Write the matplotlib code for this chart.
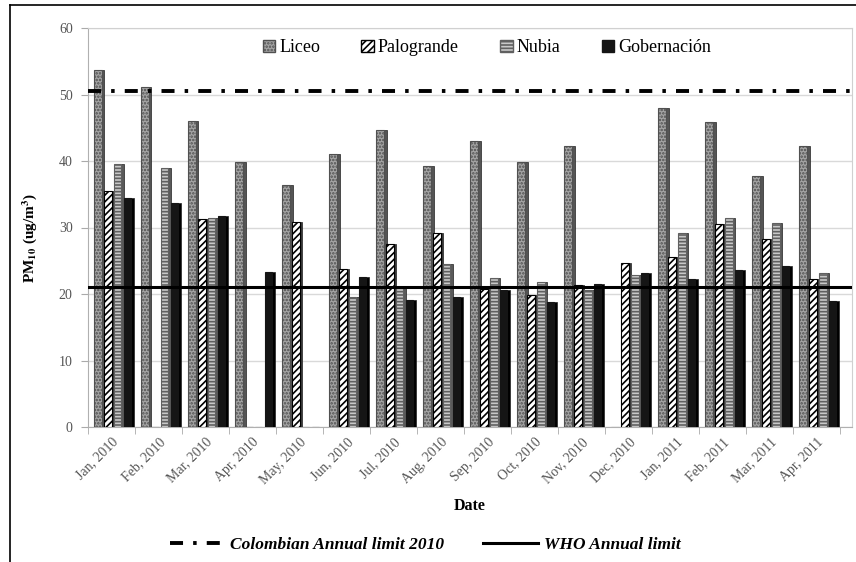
import matplotlib
matplotlib.use("Agg")
import matplotlib.pyplot as plt
import numpy as np
from matplotlib.lines import Line2D
from matplotlib.patches import Patch

plt.rcParams['font.family'] = ['Liberation Serif', 'DejaVu Serif']
plt.rcParams['mathtext.fontset'] = 'stix'
plt.rcParams['hatch.linewidth'] = 1.2

# monthly PM10 averages
months = ['Jan, 2010', 'Feb, 2010', 'Mar, 2010', 'Apr, 2010', 'May, 2010',
          'Jun, 2010', 'Jul, 2010', 'Aug, 2010', 'Sep, 2010', 'Oct, 2010',
          'Nov, 2010', 'Dec, 2010', 'Jan, 2011', 'Feb, 2011', 'Mar, 2011',
          'Apr, 2011']
liceo = [53.7, 51.2, 46.0, 39.9, 36.4, 41.0, 44.6, 39.2, 43.0, 39.8,
         42.3, 0, 48.0, 45.8, 37.7, 42.3]
palogrande = [35.5, 0, 31.3, 0, 30.9, 23.8, 27.5, 29.1, 20.8, 19.8,
              21.4, 24.7, 25.6, 30.6, 28.3, 22.3]
nubia = [39.5, 39.0, 31.5, 0, 0, 19.5, 21.0, 24.5, 22.4, 21.8,
         20.6, 22.9, 29.1, 31.5, 30.7, 23.2]
gobernacion = [34.5, 33.7, 31.8, 23.3, 0, 22.5, 19.1, 19.6, 20.6, 18.8,
               21.5, 23.1, 22.3, 23.6, 24.2, 19.0]

colombian_limit = 50.6
who_limit = 21.1

series = [
    ('Liceo', liceo, '#a4a4a4', '#505050', '.....', '#555555'),
    ('Palogrande', palogrande, 'white', 'black', '/////', '#3a3a3a'),
    ('Nubia', nubia, '#c8c8c8', '#606060', '-----', '#5a5a5a'),
    ('Gobernación', gobernacion, '#151515', '#151515', '', '#000000'),
]

fig = plt.figure(figsize=(8.56, 5.62), dpi=100)
ax = fig.add_axes([88/856, 135/562, 764/856, 399/562])

x = np.arange(len(months))
w = 0.16
side = 0.06
handles = []
for i, (name, vals, fc, ec, hatch, sc) in enumerate(series):
    left = x - 0.37 + i*0.21
    vals = np.array(vals)
    # dark side face for the 3D look
    ax.bar(left + w, vals, width=side, align='edge', color=sc,
           edgecolor='#222222', linewidth=0.5, zorder=3)
    ax.bar(left, vals, width=w, align='edge', color=fc, edgecolor=ec,
           hatch=hatch, linewidth=0.8, zorder=3)
    handles.append(Patch(facecolor=fc, edgecolor=ec, hatch=hatch, label=name))

ax.axhline(colombian_limit, color='black', lw=2.8,
           dashes=(3.35, 2.6, 0.9, 2.6), zorder=5)
ax.axhline(who_limit, color='black', lw=2.2, zorder=5)

ax.set_xlim(-0.5, 15.75)
ax.set_ylim(0, 60)
ax.set_yticks(range(0, 61, 10))
ax.set_xticks(x)
ax.set_xticklabels(months, rotation=45, ha='right', rotation_mode='anchor',
                   fontsize=10, color='#555555')
ax.set_xticks(np.arange(-0.5, 16, 1), minor=True)
ax.tick_params(axis='x', which='major', length=0, pad=6)
ax.tick_params(axis='x', which='minor', length=5, color='#aaaaaa')
ax.tick_params(axis='y', length=5, color='#aaaaaa', labelsize=10,
               labelcolor='#555555', pad=6)
ax.grid(axis='y', color='#d9d9d9', lw=1, zorder=0)
ax.set_axisbelow(True)
for s in ['left', 'bottom']:
    ax.spines[s].set_color('#b0b0b0')
for s in ['top', 'right']:
    ax.spines[s].set_color('#d0d0d0')

ax.set_xlabel('Date', fontsize=11.5, fontweight='bold', labelpad=8)
fig.text(30/856, 1 - 238/562, 'PM$_{\\mathbf{10}}$ (ug/m$^{\\mathbf{3}}$)',
         rotation=90, fontsize=11, fontweight='bold', ha='center', va='center')

ax.legend(handles=handles, ncol=4, loc='center',
          bbox_to_anchor=(0.522, 0.95), frameon=False, fontsize=13,
          handlelength=0.7, handleheight=0.7, handletextpad=0.2,
          columnspacing=2.3)

line_handles = [
    Line2D([], [], color='black', lw=2.8, dashes=(3.35, 2.6, 0.9, 2.6),
           label='Colombian Annual limit 2010'),
    Line2D([], [], color='black', lw=2.2, label='WHO Annual limit'),
]
fig.legend(handles=line_handles, ncol=2, loc='center',
           bbox_to_anchor=(425/856, 1 - 545/562), frameon=False,
           prop={'size': 12.5, 'weight': 'bold', 'style': 'italic'},
           handlelength=3.2, handletextpad=0.3, columnspacing=2.2)

# outer frame (left and top edges visible in the original)
fig.add_artist(Line2D([10/856, 10/856], [0, 1 - 5/562], color='black',
                      lw=1.2, transform=fig.transFigure))
fig.add_artist(Line2D([10/856, 1], [1 - 5/562, 1 - 5/562], color='black',
                      lw=1.2, transform=fig.transFigure))

fig.savefig('out.png', dpi=100)
